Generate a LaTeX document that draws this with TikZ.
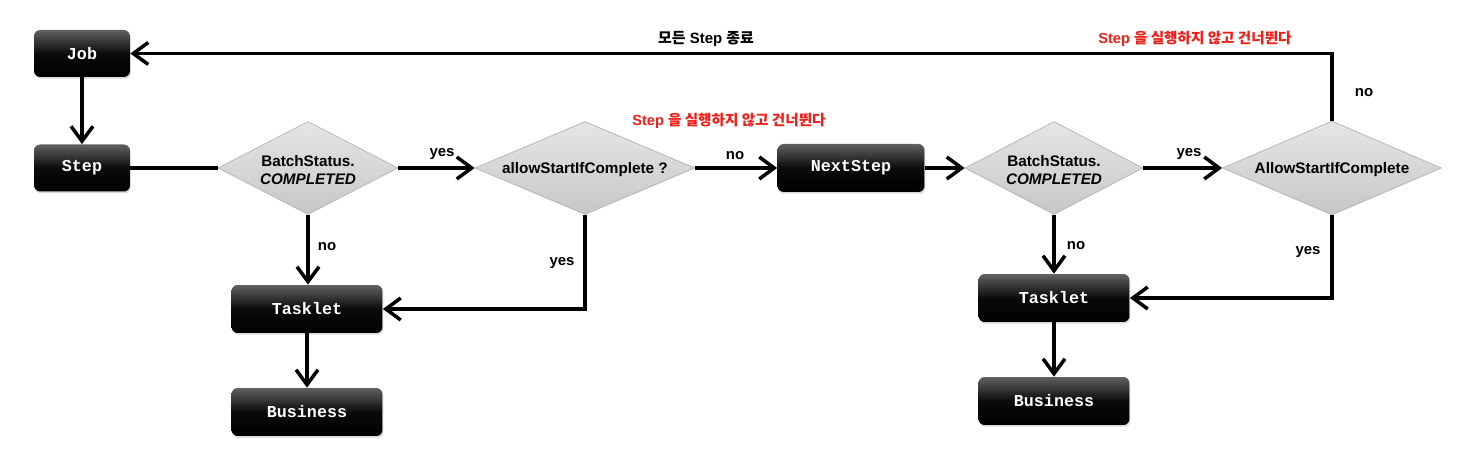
\documentclass[tikz,border=0pt]{standalone}
\usepackage{fontspec}
\setmainfont{Liberation Sans}
\newfontfamily\boxfont{Liberation Mono}
\newfontfamily\cjk{Noto Sans CJK KR}
\usetikzlibrary{arrows.meta,shapes.geometric,shadows,calc}
\definecolor{redtxt}{RGB}{238,30,25}
\begin{document}
\begin{tikzpicture}[x=0.02cm,y=-0.02cm,
  blk/.style={rectangle, rounded corners=3.5pt, top color=black!62, bottom color=black, middle color=black!96,
    draw=none, text=white, inner sep=0pt,
    font=\boxfont\bfseries\fontsize{9.5}{11}\selectfont,
    drop shadow={opacity=0.3,shadow xshift=0.5pt,shadow yshift=-1pt}},
  dia/.style={diamond, draw=black!30, line width=0.4pt, top color=black!10, bottom color=black!22, inner sep=0pt},
  dtext/.style={font=\bfseries\fontsize{8.7}{10.5}\selectfont, align=center, inner sep=0pt},
  line/.style={line width=2pt},
  conn/.style={line width=2pt, -{Straight Barb[length=8.5pt,width=12.5pt]}},
  lbl/.style={font=\bfseries\fontsize{8.5}{10}\selectfont, inner sep=0pt},
  redlbl/.style={font=\bfseries\fontsize{8.3}{10}\selectfont, text=redtxt, inner sep=0pt}
]
\useasboundingbox (0,0) rectangle (1458,455);

% boxes
\node[blk, minimum width=1.92cm, minimum height=0.94cm] (job) at (82,53.5) {Job};
\node[blk, minimum width=1.92cm, minimum height=0.94cm] (step) at (82,168) {Step};
\node[blk, minimum width=2.94cm, minimum height=0.96cm] (ns) at (851,168) {NextStep};
\node[blk, minimum width=3.02cm, minimum height=0.96cm] (t1) at (307,309) {Tasklet};
\node[blk, minimum width=3.02cm, minimum height=0.96cm] (b1) at (307,412) {Business};
\node[blk, minimum width=3.02cm, minimum height=0.96cm] (t2) at (1054,298) {Tasklet};
\node[blk, minimum width=3.02cm, minimum height=0.96cm] (b2) at (1054,401) {Business};

% diamonds
\node[dia, minimum width=3.6cm, minimum height=1.86cm] (d1) at (308,168) {};
\node[dtext] (d1t) at ($(d1.center)+(0,2)$) {BatchStatus.\\\textit{COMPLETED}};
\node[dia, minimum width=4.4cm, minimum height=1.86cm] (d2) at (585,168) {};
\node[dtext] (d2t) at ($(d2.center)+(0,2)$) {allowStartIfComplete ?};
\node[dia, minimum width=3.56cm, minimum height=1.86cm] (d3) at (1054,168) {};
\node[dtext] (d3t) at ($(d3.center)+(0,2)$) {BatchStatus.\\\textit{COMPLETED}};
\node[dia, minimum width=4.38cm, minimum height=1.88cm] (d4) at (1332,168) {};
\node[dtext] (d4t) at ($(d4.center)+(0,2)$) {AllowStartIfComplete};

% connectors
\draw[conn] (job.south) -- (step.north);
\draw[line] (step.east) -- (d1.west);
\draw[conn] (d1.east) -- (d2.west);
\draw[conn] (d1.south) -- (d1.south |- t1.north);
\draw[conn] (d2.south) |- (t1.east);
\draw[conn] (d2.east) -- (ns.west);
\draw[conn] (ns.east) -- (d3.west);
\draw[conn] (d3.east) -- (d4.west);
\draw[conn] (d3.south) -- (d3.south |- t2.north);
\draw[conn] (d4.south) |- (t2.east);
\draw[conn] (d4.north) |- (job.east);
\draw[conn] (t1.south) -- (b1.north);
\draw[conn] (t2.south) -- (b2.north);

% labels
\node[lbl] (l1) at (442,154) {yes};
\node[lbl] (l2) at (327,247) {no};
\node[lbl] (l3) at (562,263) {yes};
\node[lbl] (l4) at (735,156) {no};
\node[lbl] (l5) at (1189,154) {yes};
\node[lbl] (l6) at (1076,246) {no};
\node[lbl] (l7) at (1308,252) {yes};
\node[lbl] (l8) at (1364,93) {no};
\node[lbl] (top) at (706,39) {{\cjk\bfseries 모든} Step {\cjk\bfseries 종료}};
\node[redlbl] (r1) at (1195,39) {Step {\cjk\bfseries 을 실행하지 않고 건너뛴다}};
\node[redlbl] (r2) at (729,121) {Step {\cjk\bfseries 을 실행하지 않고 건너뛴다}};
\end{tikzpicture}
\end{document}
